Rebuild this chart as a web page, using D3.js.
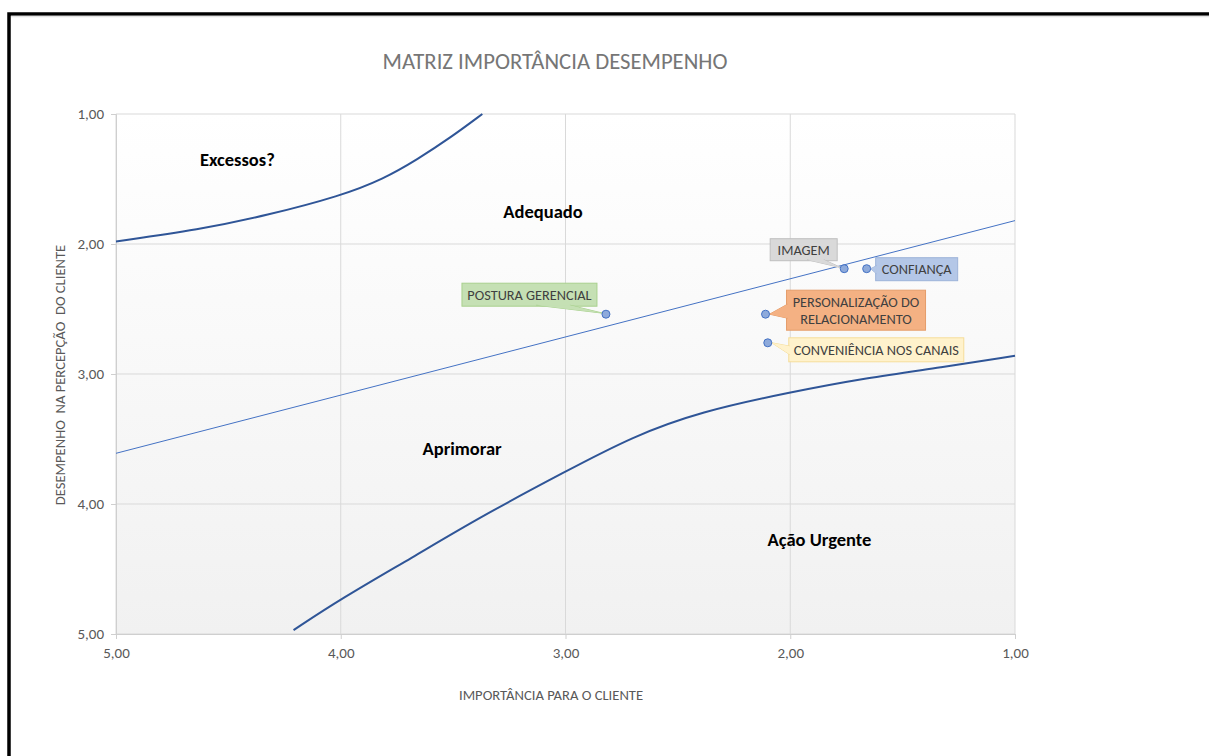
<!DOCTYPE html>
<html>
<head>
<meta charset="utf-8">
<script src="https://cdn.jsdelivr.net/npm/d3@7"></script>
<style>
  html, body { margin: 0; padding: 0; background: #fff; }
  svg { display: block; }
</style>
</head>
<body>
<svg id="chart" width="1209" height="756"></svg>
<script>
// Importance (x, reversed) vs. performance (y, reversed) matrix
const xTicks = [5, 4, 3, 2, 1];
const yTicks = [1, 2, 3, 4, 5];

const pointNames = ["IMAGEM", "CONFIANÇA", "POSTURA GERENCIAL", "PERSONALIZAÇÃO DO RELACIONAMENTO", "CONVENIÊNCIA NOS CANAIS"];
const importance = [1.76, 1.66, 2.82, 2.11, 2.10];
const performance = [2.19, 2.19, 2.54, 2.54, 2.76];

// Boundary curves of the zones
const upperCurveX = [5.00, 4.63, 4.33, 4.00, 3.81, 3.66, 3.51, 3.37];
const upperCurveY = [1.98, 1.89, 1.78, 1.63, 1.50, 1.35, 1.18, 1.00];
const lowerCurveX = [4.21, 4.00, 3.68, 3.38, 3.00, 2.70, 2.40, 2.00, 1.66, 1.33, 1.00];
const lowerCurveY = [4.97, 4.73, 4.41, 4.10, 3.75, 3.48, 3.29, 3.14, 3.03, 2.95, 2.86];
const trendX = [5.00, 1.00];
const trendY = [3.61, 1.82];

const zoneNames = ["Excessos?", "Adequado", "Aprimorar", "Ação Urgente"];
const zoneX = [4.46, 3.10, 3.46, 1.87];
const zoneY = [1.35, 1.75, 3.57, 4.27];

const fmt = v => d3.format(".2f")(v).replace(".", ",");

const svg = d3.select("#chart");
const font = "Calibri, Carlito, 'Open Sans', 'Liberation Sans', sans-serif";

const plot = { left: 116, right: 1015, top: 114, bottom: 634 };
const x = d3.scaleLinear().domain([5, 1]).range([plot.left, plot.right]);
const y = d3.scaleLinear().domain([1, 5]).range([plot.top, plot.bottom]);

// frame around the page
svg.append("rect")
  .attr("x", 9).attr("y", 14).attr("width", 1240).attr("height", 800)
  .attr("fill", "none").attr("stroke", "#000").attr("stroke-width", 3.5);
svg.append("line")
  .attr("x1", 11).attr("x2", 1209).attr("y1", 16.5).attr("y2", 16.5)
  .attr("stroke", "#e3e3e3").attr("stroke-width", 1.5);

// plot area gradient
const defs = svg.append("defs");
const grad = defs.append("linearGradient").attr("id", "bg")
  .attr("x1", 0).attr("x2", 0).attr("y1", 0).attr("y2", 1);
grad.append("stop").attr("offset", "0%").attr("stop-color", "#ffffff");
grad.append("stop").attr("offset", "100%").attr("stop-color", "#f1f1f1");
svg.append("rect")
  .attr("x", plot.left).attr("y", plot.top)
  .attr("width", plot.right - plot.left).attr("height", plot.bottom - plot.top)
  .attr("fill", "url(#bg)");

// gridlines
svg.append("g").selectAll("line.v").data(xTicks).join("line")
  .attr("x1", d => x(d)).attr("x2", d => x(d))
  .attr("y1", plot.top).attr("y2", plot.bottom)
  .attr("stroke", "#d9d9d9").attr("stroke-width", 1);
svg.append("g").selectAll("line.h").data(yTicks).join("line")
  .attr("x1", plot.left).attr("x2", plot.right)
  .attr("y1", d => y(d)).attr("y2", d => y(d))
  .attr("stroke", "#d9d9d9").attr("stroke-width", 1);

// axes
const xAxis = svg.append("g").attr("transform", `translate(0,${plot.bottom})`)
  .call(d3.axisBottom(x).tickValues(xTicks).tickFormat(fmt).tickSize(5).tickPadding(8));
const yAxis = svg.append("g").attr("transform", `translate(${plot.left},0)`)
  .call(d3.axisLeft(y).tickValues(yTicks).tickFormat(fmt).tickSize(5).tickPadding(7));
[xAxis, yAxis].forEach(a => {
  a.select(".domain").attr("stroke", "#cfcfcf");
  a.selectAll(".tick line").attr("stroke", "#cfcfcf");
  a.selectAll(".tick text").attr("fill", "#595959")
    .style("font-family", font).style("font-size", "15px");
});

// zone boundary curves
const line = d3.line().x(d => x(d[0])).y(d => y(d[1])).curve(d3.curveBasis);
svg.append("path").datum(upperCurveX.map((v, i) => [v, upperCurveY[i]]))
  .attr("d", line).attr("fill", "none").attr("stroke", "#2f5597").attr("stroke-width", 2);
svg.append("path").datum(lowerCurveX.map((v, i) => [v, lowerCurveY[i]]))
  .attr("d", line).attr("fill", "none").attr("stroke", "#2f5597").attr("stroke-width", 2);
svg.append("path").datum(trendX.map((v, i) => [v, trendY[i]]))
  .attr("d", d3.line().x(d => x(d[0])).y(d => y(d[1])))
  .attr("fill", "none").attr("stroke", "#4472c4").attr("stroke-width", 1);

// zone names
svg.append("g").selectAll("text").data(zoneNames).join("text")
  .attr("x", (d, i) => x(zoneX[i])).attr("y", (d, i) => y(zoneY[i]))
  .attr("text-anchor", "middle").attr("dominant-baseline", "central")
  .attr("fill", "#000").style("font-family", font).style("font-weight", "bold")
  .style("font-size", "18.5px").text(d => d);

// callout labels: box offset from the point, box size, pointer anchor on box
const callouts = [
  { dx: -74, dy: -30, w: 67, h: 22, fill: "#d9d9d9", stroke: "#bfbfbf", lines: ["IMAGEM"], ptr: "bottomright" },
  { dx: 9, dy: -11, w: 82, h: 23, fill: "#b4c7e7", stroke: "#9db3d9", lines: ["CONFIANÇA"], ptr: "left" },
  { dx: -144, dy: -31, w: 135, h: 23, fill: "#c5e0b4", stroke: "#a9d18e", lines: ["POSTURA GERENCIAL"], ptr: "bottomright" },
  { dx: 21, dy: -24, w: 139, h: 40, fill: "#f4b183", stroke: "#e59d6a", lines: ["PERSONALIZAÇÃO DO", "RELACIONAMENTO"], ptr: "left" },
  { dx: 21, dy: -5, w: 175, h: 24, fill: "#fff2cc", stroke: "#f5dd9a", lines: ["CONVENIÊNCIA NOS CANAIS"], ptr: "left" }
];

const labelG = svg.append("g");
pointNames.forEach((name, i) => {
  const c = callouts[i];
  const px = x(importance[i]), py = y(performance[i]);
  const bx = px + c.dx, by = py + c.dy;
  // pointer wedge from the box toward the point
  let wedge;
  if (c.ptr === "left") {
    const yA = by + c.h * 0.35, yB = by + c.h * 0.7;
    wedge = [[bx + 1, yA], [px + 4, py], [bx + 1, yB]];
  } else {
    const xA = bx + c.w * 0.55, xB = bx + c.w * 0.8;
    wedge = [[xA, by + c.h - 1], [px - 3, py - 1], [xB, by + c.h - 1]];
  }
  labelG.append("rect")
    .attr("x", bx).attr("y", by).attr("width", c.w).attr("height", c.h)
    .attr("fill", c.fill).attr("stroke", c.stroke).attr("stroke-width", 1);
  labelG.append("path")
    .attr("d", d3.line()(wedge))
    .attr("fill", c.fill).attr("stroke", c.stroke).attr("stroke-width", 1);
  // cover the box edge under the wedge root
  labelG.append("path")
    .attr("d", d3.line()(wedge) + "Z")
    .attr("fill", c.fill).attr("stroke", "none");
  const t = labelG.append("text")
    .attr("x", bx + c.w / 2).attr("text-anchor", "middle")
    .attr("fill", "#404040").style("font-family", font).style("font-size", "14.3px");
  c.lines.forEach((ln, k) => {
    t.append("tspan").attr("x", bx + c.w / 2)
      .attr("y", by + c.h / 2 + (k - (c.lines.length - 1) / 2) * 17)
      .attr("dominant-baseline", "central").text(ln);
  });
});

// data points
svg.append("g").selectAll("circle").data(pointNames).join("circle")
  .attr("cx", (d, i) => x(importance[i])).attr("cy", (d, i) => y(performance[i]))
  .attr("r", 4).attr("fill", "#8eaadb").attr("stroke", "#4472c4").attr("stroke-width", 1);

// titles
svg.append("text").attr("x", 555).attr("y", 61)
  .attr("text-anchor", "middle").attr("dominant-baseline", "central")
  .attr("fill", "#767676").style("font-family", font).style("font-size", "22.7px")
  .text("MATRIZ IMPORTÂNCIA DESEMPENHO");
svg.append("text").attr("x", 551).attr("y", 695)
  .attr("text-anchor", "middle").attr("dominant-baseline", "central")
  .attr("fill", "#595959").style("font-family", font).style("font-size", "14.6px")
  .text("IMPORTÂNCIA PARA O CLIENTE");
svg.append("text")
  .attr("transform", "translate(60,375) rotate(-90)")
  .attr("text-anchor", "middle").attr("dominant-baseline", "central")
  .attr("fill", "#595959").style("font-family", font).style("font-size", "14.6px")
  .style("white-space", "pre")
  .text("DESEMPENHO  NA PERCEPÇÃO  DO CLIENTE");
</script>
</body>
</html>
